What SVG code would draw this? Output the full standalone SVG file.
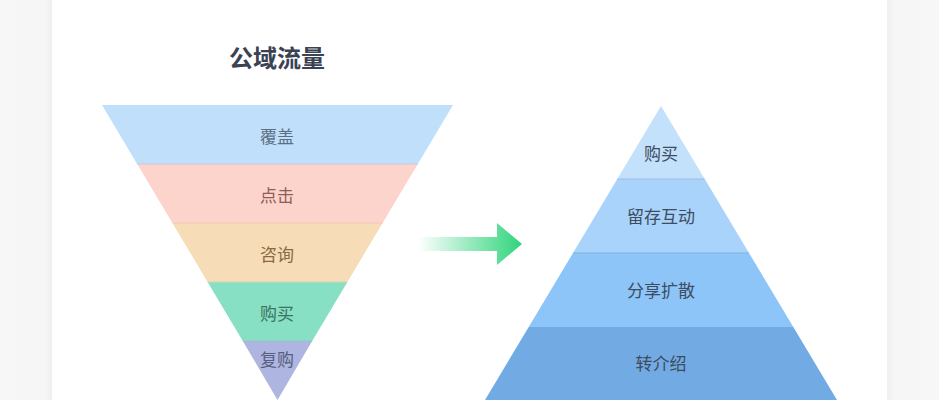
<svg xmlns="http://www.w3.org/2000/svg" width="939" height="400" viewBox="0 0 939 400">
<style>
text{font-family:"Noto Sans CJK SC","Noto Sans",sans-serif;font-size:17px;text-anchor:middle;dominant-baseline:central}
.sep{stroke-width:1;fill:none}
</style>
<defs>
<linearGradient id="arrowGrad" x1="418" y1="0" x2="522" y2="0" gradientUnits="userSpaceOnUse">
<stop offset="0" stop-color="#2fd47c" stop-opacity="0"/>
<stop offset="1" stop-color="#2fd47c" stop-opacity="1"/>
</linearGradient>
<linearGradient id="shL" x1="0" x2="1">
<stop offset="0" stop-color="#f7f7f7"/>
<stop offset="0.85" stop-color="#f6f6f6"/>
<stop offset="1" stop-color="#f0f0f0"/>
</linearGradient>
<linearGradient id="shR" x1="0" x2="1">
<stop offset="0" stop-color="#f0f0f0"/>
<stop offset="0.15" stop-color="#f6f6f6"/>
<stop offset="1" stop-color="#f7f7f7"/>
</linearGradient>
</defs>
<rect width="939" height="400" fill="#ffffff"/>
<rect x="0" y="0" width="52" height="400" fill="url(#shL)"/>
<rect x="887" y="0" width="52" height="400" fill="url(#shR)"/>

<text x="277" y="56" style="font-size:24px;font-weight:bold" fill="#3b4254">公域流量</text>

<g id="funnel">
<g id="f-cover"><polygon points="102,105 453,105 417.8,164 137.2,164" fill="#bfdffb"/><text x="277" y="135" fill="#5d6e84">覆盖</text></g>
<g id="f-click"><polygon points="137.2,164 417.8,164 382.6,223 172.4,223" fill="#fdd4cc"/><text x="277" y="194" fill="#8d5d56">点击</text></g>
<g id="f-consult"><polygon points="172.4,223 382.6,223 347.4,282 207.6,282" fill="#f6ddb8"/><text x="277" y="253" fill="#8a6a42">咨询</text></g>
<g id="f-buy"><polygon points="207.6,282 347.4,282 312.2,341 242.8,341" fill="#87dfc4"/><text x="277" y="312" fill="#3b7461">购买</text></g>
<g id="f-rebuy"><polygon points="242.8,341 312.2,341 277.5,400" fill="#adb5e0"/><text x="277" y="358" fill="#56607e">复购</text></g>
<line class="sep" x1="137.2" y1="164" x2="417.8" y2="164" stroke="#c9c6e6"/>
<line class="sep" x1="172.4" y1="223" x2="382.6" y2="223" stroke="#f0c9b6"/>
<line class="sep" x1="207.6" y1="282" x2="347.4" y2="282" stroke="#c9d7ba"/>
<line class="sep" x1="242.8" y1="341" x2="312.2" y2="341" stroke="#98c2d0"/>
</g>

<g id="connectors">
<polygon points="418,237 497,237 497,223 522,244 497,265 497,251 418,251" fill="url(#arrowGrad)"/>
</g>

<g id="pyramid">
<g id="p-buy"><polygon points="661,106 704.7,179 617.3,179" fill="#c3e1fb"/><text x="661" y="152" fill="#3d4c60">购买</text></g>
<g id="p-retain"><polygon points="617.3,179 704.7,179 749,253 573,253" fill="#a9d3fa"/><text x="661" y="215" fill="#3d4c60">留存互动</text></g>
<g id="p-share"><polygon points="573,253 749,253 793.3,327 528.7,327" fill="#8ec5f8"/><text x="661" y="289" fill="#3d4c60">分享扩散</text></g>
<g id="p-refer"><polygon points="528.7,327 793.3,327 837,400 485,400" fill="#72abe3"/><text x="661" y="362" fill="#3d4c60">转介绍</text></g>
<line class="sep" x1="617.3" y1="179" x2="704.7" y2="179" stroke="#96bfe4"/>
<line class="sep" x1="573" y1="253" x2="749" y2="253" stroke="#7fb2e0"/>
</g>
</svg>
